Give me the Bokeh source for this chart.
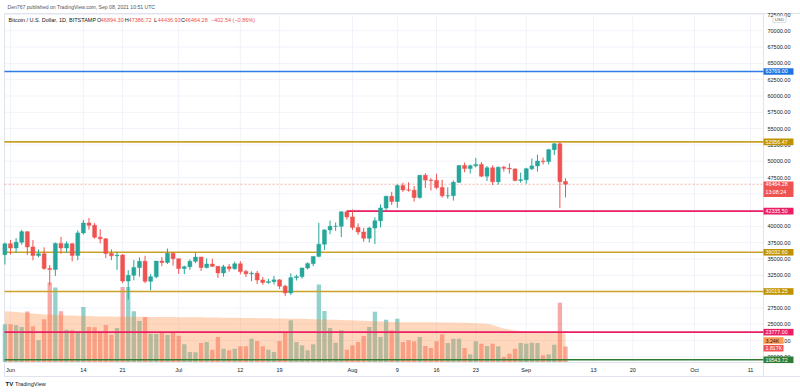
import pandas as pd
from bokeh.plotting import figure
from bokeh.models import ColumnDataSource, Range1d
from bokeh.embed import file_html
from bokeh.resources import INLINE
from bokeh.core.properties import value

# ---------------- data ----------------
start_date = "2021-05-31"
end_date = "2021-09-08"

opens = [35660, 37330, 36690, 37580, 39190, 36850, 35520, 35800, 33560, 33400,
         37390, 36680, 37330, 35550, 39000, 40530, 40160, 38340, 38090, 35830,
         35480, 35600, 31630, 32500, 33680, 34660, 31590, 32280, 34680, 34470,
         35870, 35040, 33540, 33810, 34650, 35290, 33690, 34220, 33870, 32870,
         33810, 33510, 34260, 33090, 32730, 32820, 31780, 31400, 31530, 31800,
         30830, 29790, 32140, 32290, 33620, 34290, 35400, 37270, 39460, 40010,
         40020, 42240, 41460, 39850, 39150, 38190, 39750, 40860, 42830, 44620,
         43830, 46290, 45600, 45560, 44430, 47830, 47100, 47050, 45970, 44690,
         44710, 46760, 49340, 48870, 49290, 49510, 47700, 48990, 46850, 49070,
         48900, 48810, 47050, 47160, 48850, 49280, 50020, 49940, 51770, 52660,
         46894]
highs = [37500, 37900, 38200, 39480, 39260, 37900, 36450, 36790, 34070, 37530,
         38400, 37690, 37440, 39380, 41000, 41300, 40500, 39560, 38200, 36470,
         36100, 35750, 33300, 34850, 35250, 35500, 32700, 34700, 35300, 36600,
         36000, 35040, 33970, 34950, 35950, 35290, 35090, 35050, 33900, 34100,
         34230, 34600, 34660, 33330, 33100, 33180, 32250, 31950, 32400, 31900,
         31050, 32800, 32600, 33650, 34500, 35400, 40550, 39550, 40900, 40600,
         42300, 42400, 42600, 40460, 39780, 39950, 41400, 43350, 44700, 45300,
         46450, 46700, 46750, 46200, 47900, 48150, 47400, 48050, 47150, 46000,
         47050, 49400, 49800, 49500, 50500, 49870, 49250, 49350, 49200, 49300,
         49650, 48900, 48250, 49000, 50400, 51000, 50550, 51900, 52780, 52920,
         47387]
lows = [34160, 35700, 35950, 37200, 35600, 34800, 35260, 33350, 31000, 32400,
        35800, 35950, 34650, 34800, 38750, 39500, 38120, 37380, 35150, 34830,
        33350, 31300, 28800, 31730, 32300, 31300, 30200, 32050, 33900, 34240,
        34000, 32700, 32700, 33330, 34370, 33160, 33550, 33770, 32090, 32300,
        33050, 33330, 32660, 32250, 31600, 31150, 31050, 31200, 31100, 30400,
        29300, 29500, 31700, 32000, 33400, 33900, 35250, 36400, 38800, 39300,
        38350, 41050, 39450, 38700, 37650, 37520, 37300, 39850, 42450, 43300,
        42850, 45300, 45350, 43800, 44250, 45900, 45500, 45700, 44400, 44250,
        43950, 46650, 48300, 48100, 49050, 47600, 46950, 46350, 46400, 48400,
        48100, 46900, 46700, 46550, 48650, 48400, 49500, 49500, 50950, 42800,
        44437]
closes = [37330, 36690, 37580, 39190, 36850, 35520, 35800, 33560, 33400, 37390,
          36680, 37330, 35550, 39000, 40530, 40160, 38340, 38090, 35830, 35480,
          35600, 31630, 32500, 33680, 34660, 31590, 32280, 34680, 34470, 35870,
          35040, 33540, 33810, 34650, 35290, 33690, 34220, 33870, 32870, 33810,
          33510, 34260, 33090, 32730, 32820, 31780, 31400, 31530, 31800, 30830,
          29790, 32140, 32290, 33620, 34290, 35400, 37270, 39460, 40010, 40020,
          42240, 41460, 39850, 39150, 38190, 39750, 40860, 42830, 44620, 43830,
          46290, 45600, 45560, 44430, 47830, 47100, 47050, 45970, 44690, 44710,
          46760, 49340, 48870, 49290, 49510, 47700, 48990, 46850, 49070, 48900,
          48810, 47050, 47160, 48850, 49280, 50020, 49940, 51770, 52660, 46860,
          46464]
volumes = [4435, 4435, 4318, 4118, 5929, 4200, 2553, 5024, 9353, 8765,
           5965, 3800, 3729, 3612, 6471, 4118, 4082, 3647, 4353, 3212,
           4000, 8824, 8824, 5965, 4824, 5294, 3329, 3294, 3412, 3212,
           3412, 3094, 2082, 1176, 1141, 2235, 2353, 1447, 2941, 1565,
           1376, 1565, 1847, 1847, 2741, 2471, 1847, 1447, 1176, 2471,
           3447, 4906, 2353, 1965, 1376, 2082, 9118, 6000, 4000, 2271,
           3729, 1447, 1965, 2353, 3059, 4118, 5918, 2941, 4976, 3729,
           5094, 2353, 2553, 2435, 2941, 1882, 1647, 2435, 3259, 2235,
           2741, 2741, 1647, 906, 2435, 2153, 1882, 2153, 1847, 588,
           976, 1565, 2235, 2153, 2271, 2235, 788, 906, 2035, 6976,
           1817]
vol_ma = [5980, 5930, 5880, 5820, 5760, 5700, 5650, 5600, 5560, 5530, 5500, 5480,
          5460, 5440, 5420, 5400, 5380, 5360, 5350, 5340, 5330, 5320,
          5320, 5310, 5310, 5300, 5300, 5290, 5290, 5280, 5280, 5270,
          5270, 5270, 5260, 5260, 5250, 5240, 5230, 5220, 5210, 5200,
          5190, 5180, 5170, 5160, 5150, 5140, 5130, 5120, 5110, 5100,
          5090, 5080, 5060, 5040, 5020, 5000, 4980, 4960, 4940, 4920,
          4900, 4880, 4860, 4830, 4800, 4770, 4740, 4710, 4690, 4680,
          4680, 4680, 4680, 4680, 4680, 4670, 4660, 4650, 4640, 4630,
          4620, 4600, 4570, 4530, 4490, 4350, 4150, 3950, 3820, 3720,
          3650, 3600, 3560, 3520, 3490, 3460, 3430, 3410, 3390]

levels = [63769.00, 52956.47, 42335.50, 36032.60, 30019.25, 23777.00, 19543.72]
level_colors = ["#2f7be8", "#c9a227", "#e91e63", "#c9a227", "#c9a227", "#e91e63", "#2e7d32"]
level_tag_colors = ["#1e74e0", "#bf9200", "#e91e63", "#bf9200", "#bf9200", "#e91e63", "#2e7d32"]
level_starts = ["", "", "2021-07-31", "", "", "", ""]

tick_dates = ["2021-06-01", "2021-06-14", "2021-06-21", "2021-07-01", "2021-07-12", "2021-07-19",
              "2021-08-01", "2021-08-09", "2021-08-16", "2021-08-23", "2021-09-01", "2021-09-13",
              "2021-09-20", "2021-10-01", "2021-10-11"]
tick_labels = ["Jun", "14", "21", "Jul", "12", "19", "Aug", "9", "16", "23", "Sep", "13", "20", "Oct", "11"]
price_ticks = [20000 + 2500 * i for i in range(22)]

last_price = 46464.28
last_time = "13:08:24"
last_vol_ma_label = "3.24K"
last_vol_label = "1.817K"

# ---------------- geometry helpers (canvas pixel <-> data) ----------------
ref = pd.Timestamp("2021-06-01")
PX0, PXD = 10.0, 5.606          # canvas x of Jun 1, px per day
PY0, PYK = 14.0, 0.00652        # canvas y of 72500, px per USD
VB, VK = 361.5, 0.0085          # volume baseline canvas y, px per unit
PANE_L, PANE_R, PANE_T, PANE_B = 4, 763, 13, 362
W, H = 800, 392

def dx(px):
    return (px - PX0) / PXD

def dp(py):
    return 72500 - (py - PY0) / PYK

def py_of(price):
    return PY0 + (72500 - price) * PYK

def dv(py):
    return (VB - py) / VK

def day(s):
    return (pd.Timestamp(s) - ref).days

dates = pd.date_range(start_date, end_date, freq="D")
xs = [(d - ref).days for d in dates]
UP, DOWN = "#26a69a", "#ef5350"
colors = [UP if c >= o else DOWN for o, c in zip(opens, closes)]

src = ColumnDataSource(dict(
    x=xs, o=opens, h=highs, l=lows, c=closes,
    top=[max(o, c) for o, c in zip(opens, closes)],
    bot=[min(o, c) for o, c in zip(opens, closes)],
    vol=volumes, ma=vol_ma, col=colors,
))

FONT = "Liberation Sans"
TXT = "#131722"
BORDER = "#e0e3eb"
GRID = "#f0f3fa"

p = figure(width=W, height=H, output_backend="svg", toolbar_location=None,
           x_range=Range1d(dx(0), dx(W)), y_range=Range1d(dp(H), dp(0)),
           x_axis_type=None, y_axis_type=None,
           min_border_left=0, min_border_right=0, min_border_top=0, min_border_bottom=0)
p.extra_y_ranges = {"vol": Range1d(dv(H), dv(0))}
p.outline_line_color = None
p.background_fill_color = "white"
p.border_fill_color = "white"

xl, xr = dx(PANE_L), dx(PANE_R)
yt, yb = dp(PANE_T), dp(PANE_B)

# grid lines (at the tick positions)
tick_x = [day(t) for t in tick_dates]
p.segment(x0=tick_x, y0=[yb] * len(tick_x), x1=tick_x, y1=[yt] * len(tick_x),
          line_color=GRID, line_width=1)
p.segment(x0=[xl] * len(price_ticks), y0=price_ticks, x1=[xr] * len(price_ticks),
          y1=price_ticks, line_color=GRID, line_width=1)

# chart box borders
p.segment(x0=[xl, xl, xl, xr, xl], y0=[yt, yt, dp(376), yt, yb],
          x1=[dx(W), xl, dx(W), xr, xr], y1=[yt, dp(376), dp(376), dp(376), yb],
          line_color=BORDER, line_width=1)

# volume bars + volume MA area
p.vbar(x="x", top="vol", bottom=0, width=0.77, fill_color="col", line_color=None,
       fill_alpha=0.5, source=src, y_range_name="vol")
p.varea(x="x", y1=0, y2="ma", fill_color="#ff8c42", fill_alpha=0.35, source=src,
        y_range_name="vol")

# level lines
for lv, colr, st in zip(levels, level_colors, level_starts):
    x0 = day(st) if st else xl
    p.segment(x0=[x0], y0=[lv], x1=[xr], y1=[lv], line_color=colr, line_width=1.6)

# last price dashed line
p.segment(x0=[xl], y0=[last_price], x1=[xr], y1=[last_price],
          line_color="#ef5350", line_alpha=0.45, line_width=1, line_dash="2 2")

# candles
p.segment(x0="x", y0="h", x1="x", y1="l", line_color="col", line_width=1, source=src)
p.vbar(x="x", top="top", bottom="bot", width=0.7, fill_color="col", line_color="col",
       line_width=0.5, source=src)

def txt(xv, yv, texts, color=TXT, size="5.5px", align="left", baseline="middle",
        style="normal", yrn="default"):
    p.text(x=xv, y=yv, text=texts, text_color=color, text_font=value(FONT),
           text_font_size=size, text_align=align, text_baseline=baseline,
           text_font_style=style, y_range_name=yrn)

# price axis labels
txt([dx(767)] * len(price_ticks), price_ticks, [f"{t:.2f}" for t in price_ticks])
# time axis labels
txt(tick_x, [dp(369.5)] * len(tick_x), tick_labels, align="center")

# header texts
txt([dx(7)], [dp(6)], ["Den767 published on TradingView.com, Sep 08, 2021 10:51 UTC"],
    color="#50535e", size="5.1px")
txt([dx(8)], [dp(19.5)], ["Bitcoin / U.S. Dollar, 1D, BITSTAMP"])
keys = ["O", "H", "L", "C"]
vals = ["46894.30", "47386.72", "44436.93", "46464.28"]
kx = [96.5, 124.3, 153.5, 180.5]
txt([dx(k) for k in kx], [dp(19.5)] * 4, keys)
txt([dx(k + 3.8) for k in kx], [dp(19.5)] * 4, vals, color="#ef5350")
txt([dx(210.5)], [dp(19.5)], ["\u2212402.54 (\u22120.86%)"], color="#ef5350")

# price tags on the axis
tag_x = dx(778)
p.rect(x=[tag_x] * len(levels), y=levels, width=30, height=6.6, width_units="screen",
       height_units="screen", fill_color=level_tag_colors, line_color=None)
txt([dx(765)] * len(levels), levels, [f"{v:.2f}" for v in levels], color="white", size="5.3px")

# last price tag (two lines)
p.rect(x=[tag_x], y=[dp(py_of(last_price) + 5)], width=30, height=15.5, width_units="screen",
       height_units="screen", fill_color="#ef5350", line_color=None)
txt([dx(765)], [last_price], [f"{last_price:.2f}"], color="white", size="5.3px")
txt([dx(765)], [dp(py_of(last_price) + 7.5)], [last_time], color="white", size="5.3px")

# volume tags
p.rect(x=[dx(773)], y=[dv(340)], width=20, height=6.6, width_units="screen",
       height_units="screen", fill_color="#ff9a52", line_color=None, y_range_name="vol")
txt([dx(765)], [dv(340)], [last_vol_ma_label], color=TXT, size="5.3px", yrn="vol")
p.rect(x=[dx(773)], y=[dv(347.7)], width=20, height=6.6, width_units="screen",
       height_units="screen", fill_color="#f0524f", line_color=None, y_range_name="vol")
txt([dx(765)], [dv(347.7)], [last_vol_label], color="white", size="5.3px", yrn="vol")

# USD box
p.rect(x=[dx(779)], y=[dp(18.7)], width=13, height=6.5, width_units="screen",
       height_units="screen", fill_color="white", line_color="#d1d4dc", line_width=0.8)
txt([dx(779)], [dp(18.7)], ["USD"], color="#50535e", size="4.4px", align="center")

# TradingView logo
txt([dx(5)], [dp(383.3)], ["TV"], color=TXT, size="6px", style="bold")
txt([dx(14.5)], [dp(383.3)], ["TradingView"], color=TXT, size="5.6px")

open("out.html", "w").write(file_html(p, INLINE))
